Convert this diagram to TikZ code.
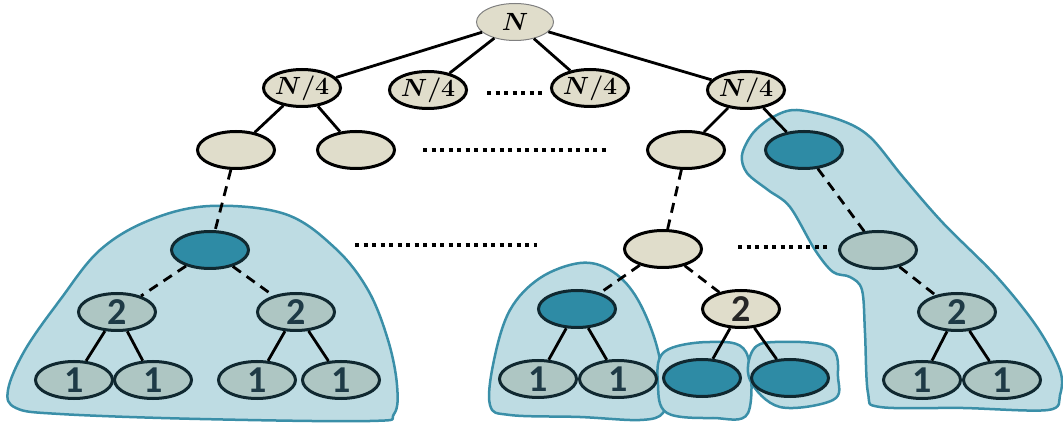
\documentclass[tikz,border=0pt]{standalone}
\usepackage{fontspec}
\newfontfamily\digitfont{Carlito}
\usetikzlibrary{shapes.geometric}
\definecolor{beige}{RGB}{224,221,203}
\definecolor{tealfill}{RGB}{46,139,165}
\definecolor{sage}{RGB}{174,198,195}
\definecolor{blobfill}{RGB}{190,220,227}
\definecolor{blobline}{RGB}{58,143,168}
\definecolor{inkdark}{RGB}{16,40,48}
\definecolor{digitink}{RGB}{30,58,70}

\tikzset{
  tnode/.style={ellipse, minimum width=77pt, minimum height=37pt, inner sep=0pt, line width=3pt},
  plain/.style={tnode, draw=black, fill=beige},
  hot/.style={tnode, draw=inkdark, fill=tealfill},
  done/.style={tnode, draw=inkdark, fill=sage, text=digitink},
  rootnode/.style={tnode, draw=gray, line width=1pt, fill=beige},
  frac/.style={font=\fontsize{36}{36}\selectfont\boldmath},
  num/.style={font=\digitfont\bfseries\fontsize{38}{38}\selectfont},
  edge/.style={line width=2.8pt},
  skip/.style={line width=2.8pt, dash pattern=on 10pt off 7pt},
  gap/.style={line width=3.5pt, dash pattern=on 4pt off 4.5pt},
  blob/.style={draw=blobline, fill=blobfill, line width=2.5pt, line join=round},
}

\begin{document}
\begin{tikzpicture}[x=1pt, y=-1pt]
\useasboundingbox (0,0) rectangle (1063,427);

% shaded groups
\draw[blob] plot[smooth cycle, tension=0.6] coordinates {
  (210,206) (150,220) (100,250) (60,300) (25,350) (8,390) (16,408) (60,414)
  (200,419) (370,421) (394,414) (397,385) (388,340) (368,290) (335,248) (285,214)};
\draw[blob] plot[smooth cycle, tension=0.6] coordinates {
  (580,263) (540,278) (510,310) (494,360) (490,405) (510,415) (580,417)
  (640,420) (663,413) (665,390) (655,340) (635,295) (610,270)};
\draw[blob] plot[smooth cycle, tension=0.6] coordinates {
  (664,352) (710,342) (746,352) (748,413) (713,418) (667,413) (658,385)};
\draw[blob] plot[smooth cycle, tension=0.6] coordinates {
  (753,350) (775,342) (830,347) (838,377) (833,400) (780,407) (750,380)};
\draw[blob] plot[smooth cycle, tension=0.55] coordinates {
  (797,110) (840,120) (870,137) (903,177) (943,223) (997,277) (1037,327)
  (1060,370) (1060,395) (1048,410) (963,408) (880,407) (868,393) (865,333)
  (862,290) (850,277) (833,272) (815,250) (790,207) (768,190) (747,173)
  (742,155) (753,133) (773,117)};

% nodes
\node[rootnode, frac] (n) at (515,22) {$N$};
\node[plain, frac] (qa) at (302,88) {$N/4$};
\node[plain, frac] (qb) at (428,90) {$N/4$};
\node[plain, frac] (qc) at (590,88) {$N/4$};
\node[plain, frac] (qd) at (746,90) {$N/4$};

\node[plain] (ea) at (236,150) {};
\node[plain] (eb) at (356,150) {};
\node[plain] (ec) at (686,150) {};
\node[hot]   (ed) at (804,150) {};

\node[hot]   (la) at (210,250) {};
\node[plain] (lb) at (663,249) {};
\node[done]  (lc) at (878,250) {};

\node[done, num]  (ta) at (117,312) {2};
\node[done, num]  (tb) at (296,312) {2};
\node[hot]        (tc) at (577,309) {};
\node[plain, num, text=black!85] (td) at (741,309) {2};
\node[done, num]  (te) at (957,312) {2};

\node[done, num] (oa) at (74,380) {1};
\node[done, num] (ob) at (153,380) {1};
\node[done, num] (oc) at (257,380) {1};
\node[done, num] (od) at (341,380) {1};
\node[done, num] (oe) at (538,379) {1};
\node[done, num] (of) at (618,379) {1};
\node[hot]       (og) at (702,378) {};
\node[hot]       (oh) at (790,378) {};
\node[done, num] (oi) at (922,380) {1};
\node[done, num] (oj) at (1002,380) {1};

% tree edges
\draw[edge] (n) -- (qa);
\draw[edge] (n) -- (qb);
\draw[edge] (n) -- (qc);
\draw[edge] (n) -- (qd);
\draw[edge] (qa) -- (ea);
\draw[edge] (qa) -- (eb);
\draw[edge] (qd) -- (ec);
\draw[edge] (qd) -- (ed);

\draw[skip] (ea) -- (la);
\draw[skip] (ec) -- (lb);
\draw[skip] (ed) -- (lc);
\draw[skip] (la) -- (ta);
\draw[skip] (la) -- (tb);
\draw[skip] (lb) -- (tc);
\draw[skip] (lb) -- (td);
\draw[skip] (lc) -- (te);

\draw[edge] (ta) -- (oa);
\draw[edge] (ta) -- (ob);
\draw[edge] (tb) -- (oc);
\draw[edge] (tb) -- (od);
\draw[edge] (tc) -- (oe);
\draw[edge] (tc) -- (of);
\draw[edge] (td) -- (og);
\draw[edge] (td) -- (oh);
\draw[edge] (te) -- (oi);
\draw[edge] (te) -- (oj);

% elided siblings
\coordinate (g1a) at (487,93);  \coordinate (g1b) at (545,93);
\coordinate (g2a) at (423,150); \coordinate (g2b) at (606,150);
\coordinate (g3a) at (355,245); \coordinate (g3b) at (537,245);
\coordinate (g4a) at (738,247); \coordinate (g4b) at (830,247);
\draw[gap] (g1a) -- (g1b);
\draw[gap] (g2a) -- (g2b);
\draw[gap] (g3a) -- (g3b);
\draw[gap] (g4a) -- (g4b);
\end{tikzpicture}
\end{document}
